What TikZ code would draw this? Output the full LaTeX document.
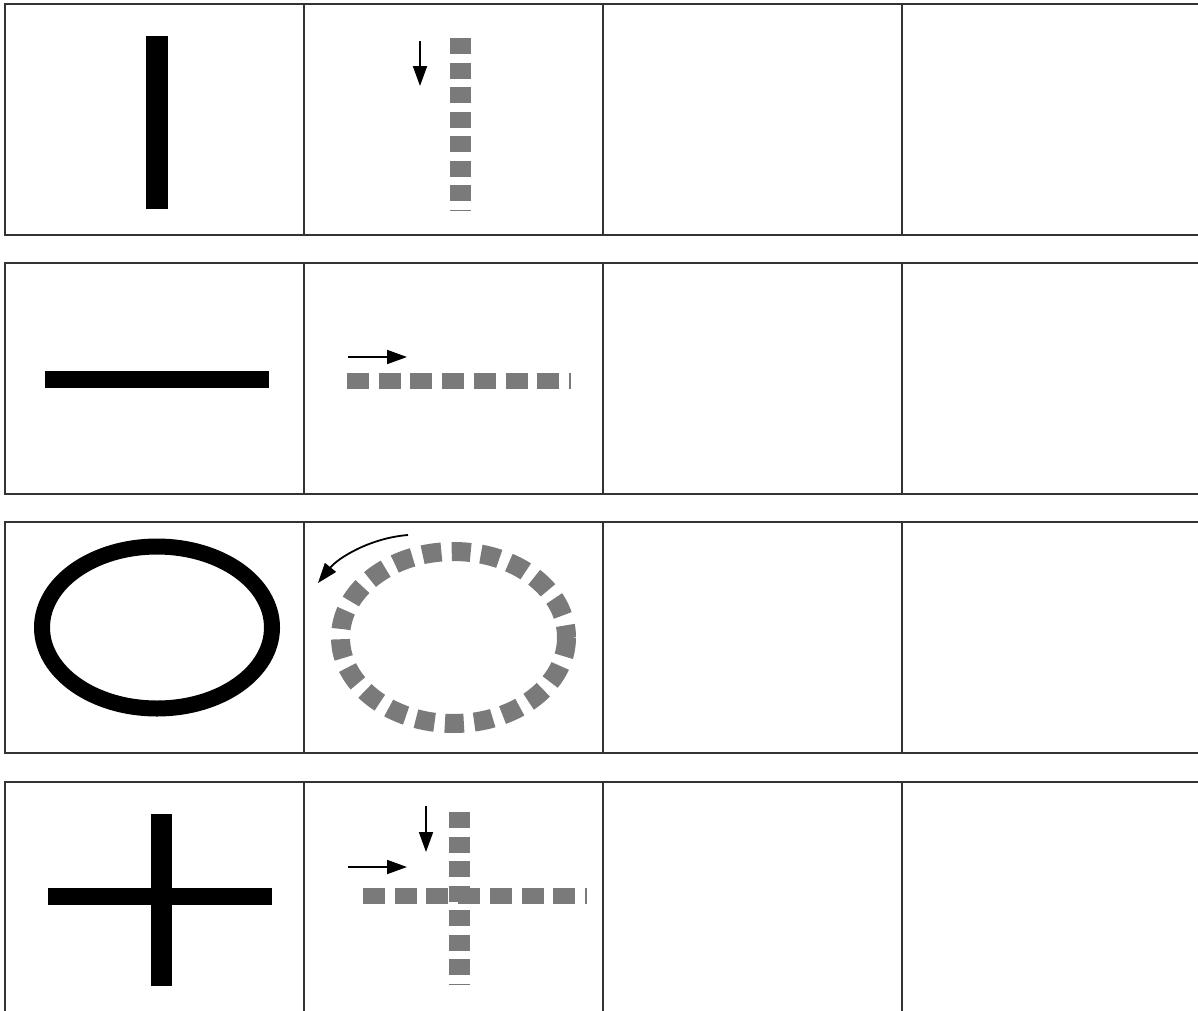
\documentclass[tikz,border=0pt]{standalone}
\usepackage{xcolor}
\usepackage{tikz}
\usetikzlibrary{arrows.meta}
\begin{document}
\begin{tikzpicture}[x=1pt,y=-1pt]
	 \tikzstyle{cell}=[rectangle,draw=black!80,line width=2pt,minimum width=299pt,minimum height=231pt,inner sep=0pt,outer sep=0pt]
	 \tikzstyle{bar}=[fill=black]
	 \tikzstyle{vdots}=[draw=black!52,line width=21pt,dash pattern=on 16pt off 8.5pt]
	 \tikzstyle{hdots}=[draw=black!52,line width=16pt,dash pattern=on 22pt off 9.7pt]
	 \tikzstyle{cue}=[draw,line width=1.8pt,-{Triangle[length=20pt,width=14pt]}]
	 \useasboundingbox (0,0) rectangle (1198,1010);
	 \foreach \r/\y in {1/119.5,2/378.5,3/637.5,4/897.5}
	 	\foreach \c/\x in {1/154.5,2/453.5,3/752.5,4/1051.5}
	 		\node[cell] (c\r\c) at (\x,\y) {};
	 \coordinate (p1) at (420,41);
	 \coordinate (q1) at (420,86);
	 \coordinate (p2) at (348,357);
	 \coordinate (q2) at (407,357);
	 \coordinate (p3) at (408,535);
	 \coordinate (q3) at (318,583);
	 \coordinate (p4) at (426,806);
	 \coordinate (q4) at (426,852);
	 \coordinate (p5) at (348,867);
	 \coordinate (q5) at (407,867);
	 \fill[bar] (146,36) rectangle (168,209);
	 \draw[vdots] (460,38) -- (460,211);
	 \draw[cue] (p1) -- (q1);
	 \fill[bar] (45,371) rectangle (269,388);
	 \draw[hdots] (347,381) -- (571,381);
	 \draw[cue] (p2) -- (q2);
	 \draw[line width=16pt] (157,627.5) ellipse [x radius=115, y radius=81];
	 \draw[draw=black!52,line width=19pt,dash pattern=on 19pt off 10.33pt] (453.5,637.5) ellipse [x radius=113, y radius=86];
	 \draw[cue] (p3) .. controls (370,538) and (338,558) .. (q3);
	 \fill[bar] (48,888) rectangle (272,905);
	 \fill[bar] (151,814) rectangle (172,986);
	 \draw[vdots] (459,812) -- (459,985);
	 \draw[hdots] (363,896) -- (587,896);
	 \draw[cue] (p4) -- (q4);
	 \draw[cue] (p5) -- (q5);
\end{tikzpicture}
\end{document}
